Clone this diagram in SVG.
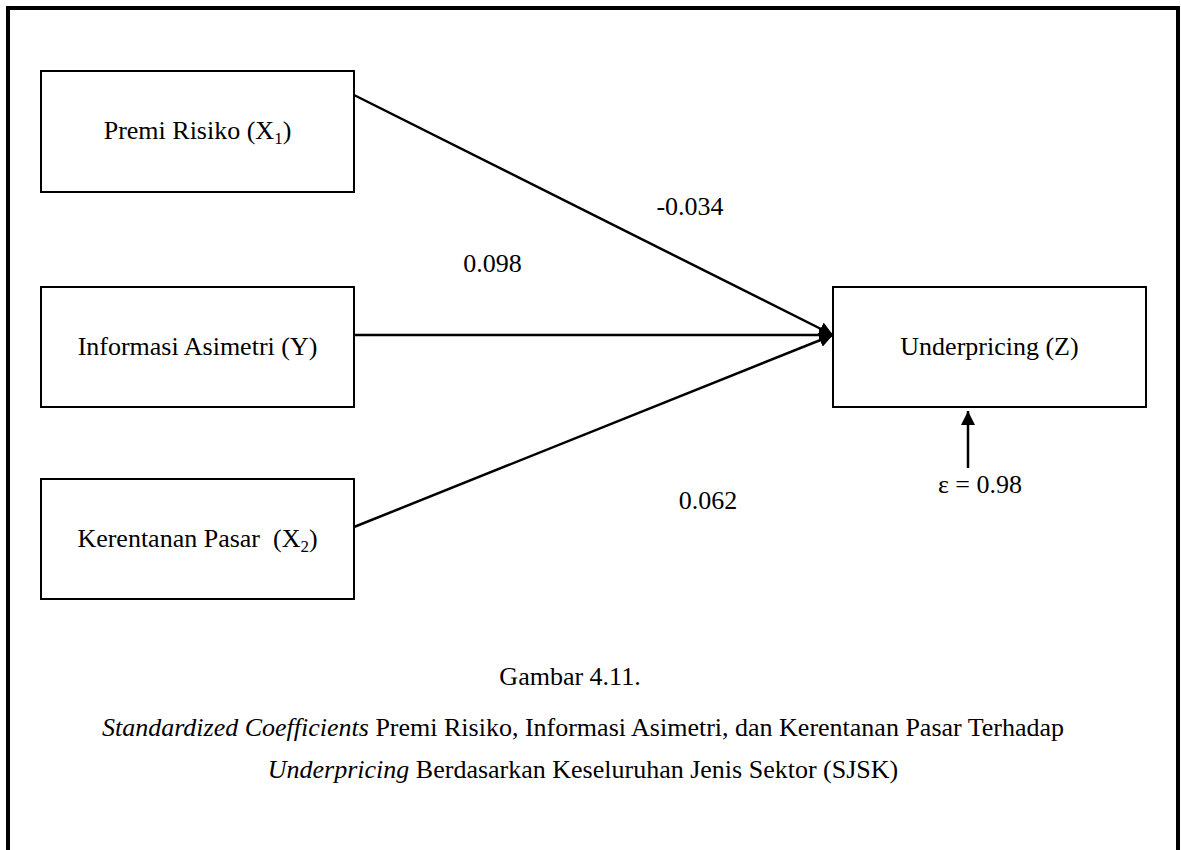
<svg xmlns="http://www.w3.org/2000/svg" width="1181" height="850" viewBox="0 0 1181 850">
<style>
text{font-family:"Liberation Serif","Times New Roman",serif;font-size:26px;fill:#000}
.box{fill:#fff;stroke:#000;stroke-width:2}
.c{text-anchor:middle}
.edge{stroke:#000;stroke-width:2.5;fill:none;marker-end:url(#ah)}
</style>
<defs>
<marker id="ah" markerUnits="userSpaceOnUse" markerWidth="16" markerHeight="16" refX="14" refY="8" orient="auto">
<path d="M0,1 L14,8 L0,15 z" fill="#000"/>
</marker>
</defs>
<rect x="8" y="8" width="1170" height="860" fill="#fff" stroke="#000" stroke-width="4"/>
<g id="connectors">
<line class="edge" x1="354" y1="95" x2="833" y2="335"/>
<line class="edge" x1="354" y1="335" x2="833" y2="335"/>
<line class="edge" x1="354" y1="527" x2="833" y2="335"/>
<line class="edge" x1="968" y1="468" x2="968" y2="411"/>
</g>
<g id="premi">
<rect class="box" x="41" y="71" width="313" height="121"/>
<text class="c" x="197.5" y="139">Premi Risiko (X<tspan font-size="17" dy="5">1</tspan><tspan dy="-5">)</tspan></text>
</g>
<g id="informasi">
<rect class="box" x="41" y="287" width="313" height="120"/>
<text class="c" x="197.5" y="355">Informasi Asimetri (Y)</text>
</g>
<g id="kerentanan">
<rect class="box" x="41" y="479" width="313" height="120"/>
<text class="c" x="197.5" y="547" xml:space="preserve">Kerentanan Pasar  (X<tspan font-size="17" dy="5">2</tspan><tspan dy="-5">)</tspan></text>
</g>
<g id="underpricing">
<rect class="box" x="833" y="287" width="313" height="120"/>
<text class="c" x="989.5" y="355">Underpricing (Z)</text>
</g>
<g id="labels">
<text class="c" x="690" y="215">-0.034</text>
<text class="c" x="492.5" y="272">0.098</text>
<text class="c" x="708" y="509">0.062</text>
<text class="c" x="980" y="493">ε = 0.98</text>
</g>
<g id="caption">
<text class="c" x="570" y="685">Gambar 4.11.</text>
<text class="c" x="583" y="736"><tspan font-style="italic">Standardized Coefficients</tspan> Premi Risiko, Informasi Asimetri, dan Kerentanan Pasar Terhadap</text>
<text class="c" x="583" y="778"><tspan font-style="italic">Underpricing</tspan> Berdasarkan Keseluruhan Jenis Sektor (SJSK)</text>
</g>
</svg>
